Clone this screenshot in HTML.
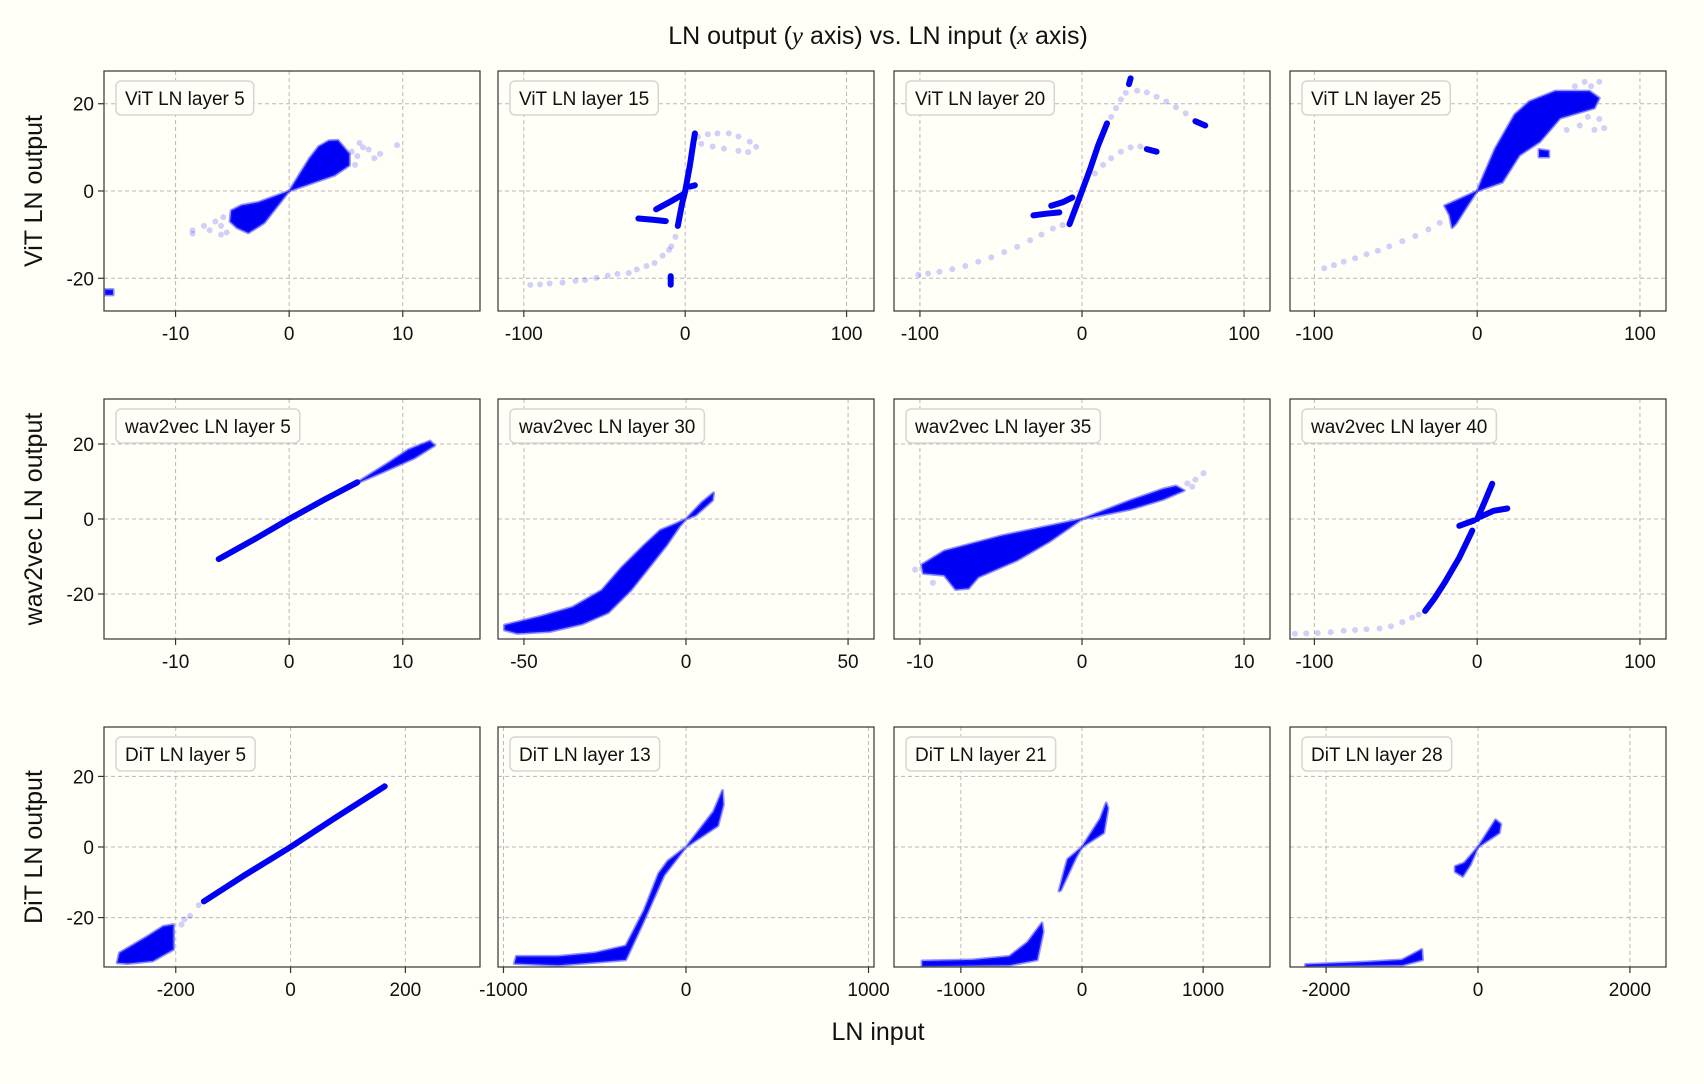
<!DOCTYPE html>
<html><head><meta charset="utf-8">
<style>
html,body{margin:0;padding:0;background:#fffef7;}
svg{display:block;font-family:"Liberation Sans",sans-serif;}
</style></head>
<body>
<svg id="fig" width="1704" height="1084" viewBox="0 0 1704 1084" xmlns="http://www.w3.org/2000/svg">
<rect x="0" y="0" width="1704" height="1084" fill="#fffef7"/>
<text x="878" y="44" text-anchor="middle" font-size="25" fill="#111">LN output (<tspan font-family="Liberation Serif" font-style="italic">y</tspan> axis) vs. LN input (<tspan font-family="Liberation Serif" font-style="italic">x</tspan> axis)</text>
<text x="878" y="1040" text-anchor="middle" font-size="25" fill="#111">LN input</text>
<text transform="translate(42,191) rotate(-90)" text-anchor="middle" font-size="25" fill="#111">ViT LN output</text>
<text transform="translate(42,519) rotate(-90)" text-anchor="middle" font-size="25" fill="#111">wav2vec LN output</text>
<text transform="translate(42,847) rotate(-90)" text-anchor="middle" font-size="25" fill="#111">DiT LN output</text>
<g id="panels"></g>
</svg>
<script>
// ---- chart data (data coordinates) ----
const panelTitles = ["ViT LN layer 5","ViT LN layer 15","ViT LN layer 20","ViT LN layer 25",
 "wav2vec LN layer 5","wav2vec LN layer 30","wav2vec LN layer 35","wav2vec LN layer 40",
 "DiT LN layer 5","DiT LN layer 13","DiT LN layer 21","DiT LN layer 28"];
const xLimits = [[-16.3,16.8],[-116,117],[-116,116],[-115,116],
 [-16.3,16.8],[-58,58],[-11.6,11.6],[-115,116],
 [-325,330],[-1030,1030],[-1552,1552],[-2475,2475]];
const xTicks = [[-10,0,10],[-100,0,100],[-100,0,100],[-100,0,100],
 [-10,0,10],[-50,0,50],[-10,0,10],[-100,0,100],
 [-200,0,200],[-1000,0,1000],[-1000,0,1000],[-2000,0,2000]];
const yLimits = [[-27.5,27.5],[-32,32],[-34,34]];
const yTicks = [-20,0,20];

// dense clouds (filled outlines)
const vit5Clouds = [
 [[0,0],[1.8,7.5],[2.6,10.2],[3.5,11.5],[4.3,11.6],[5.3,8.5],[5.3,5.9],[4,3.6],[0,0]],
 [[0,0],[-2.7,-2.6],[-4.2,-3.3],[-5.1,-4.5],[-5.2,-7],[-4.6,-8.4],[-3.6,-9.6],[-2.2,-7.3],[0,0]],
 [[-16.2,-22.6],[-15.5,-22.6],[-15.5,-23.8],[-16.2,-23.8]]];
const vit5Faint = [[5.5,9],[6,8],[7,9.5],[8,8.5],[9.5,10.5],[6.5,10],[7.5,7.5],[5.8,6],[6.2,11],
 [-6,-8],[-7,-9],[-8.5,-9],[-5.5,-9.5],[-6.5,-7],[-7.5,-8],[-6,-10],[-8.5,-9.8],[-5.8,-6]];
const vit15Bands = [
 [[-4.6,-8],[-2,-3],[0,0],[3,6],[5,11],[6,13.2]],
 [[-18,-4.2],[-10,-2.6],[-1,-0.7]],
 [[-29,-6.3],[-20,-6.6],[-12,-6.9]],
 [[3,1],[6,1.3]],
 [[-9,-19.5],[-9,-21.5]]];
const vit15Faint = [[-96,-21.5],[-90,-21.4],[-84,-21.2],[-76,-21],[-68,-20.6],[-62,-20.4],[-55,-19.9],[-48,-19.4],[-42,-19],[-35,-18.8],[-30,-18],[-24,-17.2],[-19,-16.5],[-14,-14.8],[-10,-13.5],[-8.6,-12.7],[-6,-10.5],
 [8,12.4],[14,13],[20,13.2],[27,13.2],[33,12.5],[40,11.3],[44,10.1],[39,8.9],[33,9.2],[24,9.7],[17,10.2],[10,10.8]];
const vit20Bands = [
 [[-7.7,-7.6],[-3,-3],[0,0],[5,5],[10,10.5],[15.4,15.5]],
 [[-19,-3.4],[-12,-2.6],[-6,-1.5]],
 [[-30,-5.6],[-22,-5.2],[-14,-4.9]],
 [[29,24.5],[30,25.8]],
 [[70,16],[76,15]],
 [[40,9.6],[46,9]]];
const vit20Faint = [[-101,-19.2],[-95,-18.9],[-88,-18.5],[-80,-17.9],[-72,-17.2],[-64,-16.2],[-56,-15.2],[-48,-14],[-40,-12.8],[-32,-11.3],[-25,-10],[-18,-8.6],[-12,-7.8],
 [18,17],[21,19],[24,21],[27,22.5],[34,23],[40,22.6],[46,21.6],[52,20.5],[58,19.2],[64,17.8],
 [8,4],[13,6],[18,7.5],[24,9],[30,10],[36,10.2]];
const vit25Clouds = [
 [[0,0],[15.4,2],[26,8.2],[38.5,11.3],[51,16.7],[72,19],[75,21.3],[69,22.9],[48,22.9],[32,20.5],[23,17.5],[11,9.7],[3,2.8],[0,0]],
 [[0,0],[-20,-3.4],[-17,-5.5],[-15.4,-8.4],[-13,-7.5],[-6,-3.4],[0,0]],
 [[38,9.5],[44,9.2],[44,7.8],[38,7.8]]];
const vit25Faint = [[-94,-17.7],[-88,-17],[-82,-16.2],[-75,-15.4],[-68,-14.5],[-61,-13.7],[-54,-12.7],[-46,-11.5],[-38,-10.3],[-30,-8.8],[-23,-7.3],
 [78,14.4],[72,14],[75,16.5],[66,25],[75,25],[70,24],[60,24],[68,17],[63,15],[55,14]];
const w5Bands = [[[-6.2,-10.7],[-3,-5.3],[0,0],[3,5],[6,9.8]]];
const w5Clouds = [[[5.5,8.8],[8.5,14.5],[10.5,18.5],[12.4,20.8],[12.8,19.6],[11,16.2],[8,12.2],[6.3,10]]];
const w30Clouds = [[[-56,-28.3],[-45,-26],[-35,-23.5],[-26,-19],[-20,-13],[-13,-7],[-8,-3],[-3,-1.2],[0,0],[5,4.5],[8.5,7],[8.2,5],[3,1],[0,0],[-2,-2],[-6,-7],[-11,-12.5],[-17,-19],[-24,-25],[-32,-28],[-42,-30],[-52,-30.5],[-56,-29.6]]];
const w35Clouds = [
 [[0,0],[3,5],[5,8],[5.8,8.8],[6.3,7.6],[5,5.2],[3,2.6],[0,0]],
 [[0,0],[-5,-4.5],[-8.5,-8.5],[-9.9,-12.2],[-9.8,-14.5],[-8.5,-15],[-7.8,-18.8],[-7,-18.5],[-6.4,-15.5],[-4,-11],[-2,-6],[0,0]]];
const w35Faint = [[6.5,9.5],[7,10.5],[7.5,12.2],[6.8,8.6],[-10.3,-13.5],[-9.2,-17]];
const w40Bands = [
 [[0,0],[5,5],[9.2,9.4]],
 [[2,0.6],[10,2.2],[18.5,2.8]],
 [[-11,-1.8],[-2,-0.4]],
 [[-3,-3.1],[-11,-10.3],[-20,-17],[-26,-21],[-32,-24.5]]];
const w40Faint = [[-112,-30.6],[-105,-30.5],[-98,-30.4],[-90,-30.2],[-82,-29.8],[-75,-29.6],[-68,-29.4],[-60,-29.2],[-53,-28.6],[-46,-27.5],[-40,-26.3],[-36,-25.5]];
const d5Bands = [[[-151,-15.4],[-80,-8],[0,0],[80,8.5],[164,17.2]]];
const d5Clouds = [[[-302,-32.8],[-298,-30],[-249,-25.3],[-222,-22.5],[-204,-22],[-204,-29],[-240,-32.3],[-284,-33]]];
const d5Faint = [[-185,-20.5],[-175,-19.5],[-190,-22],[-160,-16.5]];
const d13Clouds = [[[0,0],[150,10],[200,16],[205,12],[175,6],[0,0],[-100,-4],[-150,-7.5],[-230,-18],[-330,-28],[-500,-30],[-700,-31],[-930,-31],[-940,-33],[-700,-33.5],[-330,-32],[-240,-22],[-120,-8],[0,0]]];
const d21Clouds = [
 [[0,0],[150,8],[200,12.5],[215,11],[180,4],[0,0]],
 [[0,0],[-120,-3.5],[-140,-6],[-190,-12.5],[-175,-12.2],[-50,-3],[0,0]],
 [[-1320,-32.3],[-900,-32],[-600,-31],[-450,-27],[-330,-21.5],[-320,-24],[-370,-32],[-600,-33.5],[-1320,-33.8]]];
const d28Clouds = [
 [[0,0],[180,6],[230,7.7],[300,6.5],[280,4],[0,0]],
 [[0,0],[-180,-4.5],[-300,-5.5],[-300,-7],[-200,-8.3],[-100,-5],[0,0]],
 [[-2270,-33.3],[-1500,-32.6],[-1000,-32],[-740,-29],[-730,-32],[-1000,-33.5],[-2270,-33.8]]];

const panelClouds = [vit5Clouds,[],[],vit25Clouds,w5Clouds,w30Clouds,w35Clouds,[],d5Clouds,d13Clouds,d21Clouds,d28Clouds];
const panelBands = [[],vit15Bands,vit20Bands,[],w5Bands,[],[],w40Bands,d5Bands,[],[],[]];
const panelFaint = [vit5Faint,vit15Faint,vit20Faint,vit25Faint,[],[],w35Faint,w40Faint,d5Faint,[],[],[]];

// ---- layout ----
const colLeft = [104,498,894,1290], panelW = 376;
const rowTop = [71,399,727], panelH = 240;
const NS = "http://www.w3.org/2000/svg";
const root = document.getElementById("panels");
function mk(tag, attrs, parent){const e=document.createElementNS(NS,tag);for(const k in attrs)e.setAttribute(k,attrs[k]);parent.appendChild(e);return e;}

const defs = mk("defs",{},root);
panelTitles.forEach((title,i)=>{
  const r = Math.floor(i/4), c = i%4;
  const L = colLeft[c], T = rowTop[r];
  const [x0,x1] = xLimits[i], [y0,y1] = yLimits[r];
  const sx = v => L + (v-x0)/(x1-x0)*panelW;
  const sy = v => T + panelH - (v-y0)/(y1-y0)*panelH;
  const g = mk("g",{},root);
  
  
  const cp = mk("clipPath",{id:"clip"+i},defs);
  mk("rect",{x:L,y:T,width:panelW,height:panelH},cp);
  xTicks[i].forEach(t=>{
    const gl = mk("line",{x1:sx(t),x2:sx(t),y1:T,y2:T+panelH,stroke:"#b8b8b8","stroke-width":1,"stroke-dasharray":"4,3"},g);
    
    
    const tk = mk("line",{x1:sx(t),x2:sx(t),y1:T+panelH,y2:T+panelH+6,stroke:"#333","stroke-width":1.2},g);
    
    
    const tl = mk("text",{x:sx(t),y:T+panelH+29,"text-anchor":"middle","font-size":19,fill:"#111"},g);
    tl.textContent = t;
    
    
  });
  yTicks.forEach(t=>{
    const gl = mk("line",{x1:L,x2:L+panelW,y1:sy(t),y2:sy(t),stroke:"#b8b8b8","stroke-width":1,"stroke-dasharray":"4,3"},g);
    
    
    if(c===0){
      const tk = mk("line",{x1:L-6,x2:L,y1:sy(t),y2:sy(t),stroke:"#333","stroke-width":1.2},g);
      
      
      const tl = mk("text",{x:L-10,y:sy(t)+7,"text-anchor":"end","font-size":19,fill:"#111"},g);
      tl.textContent = t;
      
      
    }
  });
  const data = mk("g",{"clip-path":"url(#clip"+i+")"},g);
  
  
  panelFaint[i].forEach(p=>{
    const ci = mk("circle",{cx:sx(p[0]),cy:sy(p[1]),r:3,fill:"#0000ff","fill-opacity":0.18},data);
    
    
  });
  panelClouds[i].forEach(poly=>{
    const pg = mk("polygon",{points:poly.map(p=>sx(p[0]).toFixed(1)+","+sy(p[1]).toFixed(1)).join(" "),fill:"#0000f5",stroke:"#2a2aff","stroke-opacity":0.5,"stroke-width":3,"stroke-linejoin":"round"},data);
    
    
  });
  panelBands[i].forEach(line=>{
    const pl = mk("polyline",{points:line.map(p=>sx(p[0]).toFixed(1)+","+sy(p[1]).toFixed(1)).join(" "),fill:"none",stroke:"#0000f5","stroke-width":6,"stroke-linecap":"round","stroke-linejoin":"round"},data);
    
    
  });
  const fr = mk("rect",{x:L,y:T,width:panelW,height:panelH,fill:"none",stroke:"#333","stroke-width":1.2},g);
  
  
  const lg = mk("g",{},g);
  
  
  const box = mk("rect",{x:L+12,y:T+10,height:34,width:10,rx:5,fill:"#fffef7",stroke:"#d6d6d6","stroke-width":1.5},lg);
  const tx = mk("text",{x:L+21,y:T+34,"font-size":19,fill:"#111"},lg);
  tx.textContent = title;
  
  
  box.setAttribute("width", tx.getComputedTextLength()+18);
});
</script>
</body></html>
